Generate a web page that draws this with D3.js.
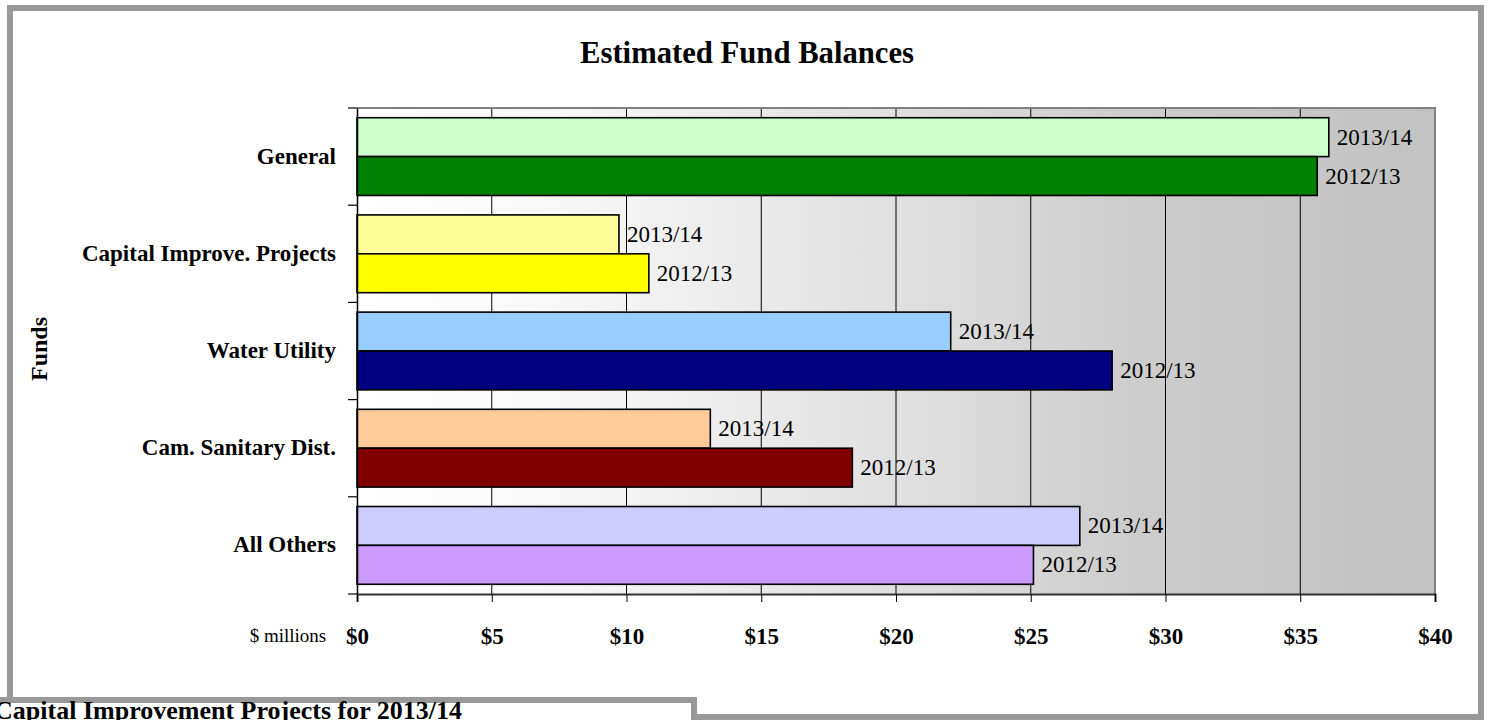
<!DOCTYPE html>
<head>
  <meta charset="utf-8">
  <style>
    body { margin: 0; background: #fff; }
    svg { display: block; font-family: 'Liberation Serif', 'Times New Roman', serif; }
  </style>
  <script src="https://cdn.jsdelivr.net/npm/d3@7"></script>
</head>
<body>
<div id=chart></div>
<script>
// fund balances, $ millions
const funds = ['General', 'Capital Improve. Projects', 'Water Utility', 'Cam. Sanitary Dist.', 'All Others']
const years = ['2013/14', '2012/13']
const balance_1314 = [36.06, 9.72, 22.03, 13.11, 26.82]
const balance_1213 = [35.63, 10.83, 28.02, 18.38, 25.10]
const color_1314 = ['#ccffcc', '#ffff99', '#99ccff', '#ffcc99', '#ccccff']
const color_1213 = ['#008000', '#ffff00', '#000080', '#800000', '#cc99ff']
const x_ticks = [0, 5, 10, 15, 20, 25, 30, 35, 40]

const width = 1499, height = 720
const plot = { left: 357, right: 1435, top: 108, bottom: 594 }

const svg = d3.select('#chart').append('svg')
  .attr('width', width).attr('height', height)
  .attr('viewBox', [0, 0, width, height])

// outer frame
svg.append('rect')
  .attr('x', 10).attr('y', 8).attr('width', 1471).attr('height', 709)
  .attr('fill', '#fff').attr('stroke', '#999').attr('stroke-width', 6)

// plot background gradient
const grad = svg.append('defs').append('linearGradient').attr('id', 'bg')
  .attr('x1', '0%').attr('x2', '100%').attr('y1', '0%').attr('y2', '0%')
grad.selectAll('stop')
  .data([[0, '#ffffff'], [0.2, '#f7f7f7'], [0.5, '#e0e0e0'], [0.72, '#cdcdcd'], [1, '#c2c2c2']])
  .join('stop').attr('offset', d => d[0]).attr('stop-color', d => d[1])

const x = d3.scaleLinear().domain([0, 40]).range([plot.left, plot.right])
const y = d3.scaleBand().domain(funds).range([plot.top, plot.bottom]).padding(0)
const y_inner = d3.scaleBand().domain(years).range([0, y.bandwidth()]).paddingInner(0).paddingOuter(0.25)

svg.append('rect')
  .attr('x', plot.left).attr('y', plot.top)
  .attr('width', plot.right - plot.left).attr('height', plot.bottom - plot.top)
  .attr('fill', 'url(#bg)')

// gridlines
svg.append('g').selectAll('line').data(x_ticks.slice(1, -1)).join('line')
  .attr('x1', d => x(d)).attr('x2', d => x(d))
  .attr('y1', plot.top).attr('y2', plot.bottom)
  .attr('stroke', '#000').attr('stroke-width', 1)

// plot border (top/right)
svg.append('path')
  .attr('d', `M${plot.left},${plot.top}H${plot.right}V${plot.bottom}`)
  .attr('fill', 'none').attr('stroke', '#808080').attr('stroke-width', 2)

// bars
const rows = funds.flatMap((f, i) => [
  { fund: f, year: years[0], value: balance_1314[i], color: color_1314[i] },
  { fund: f, year: years[1], value: balance_1213[i], color: color_1213[i] },
])

svg.append('g').selectAll('rect').data(rows).join('rect')
  .attr('x', x(0))
  .attr('y', d => y(d.fund) + y_inner(d.year))
  .attr('width', d => x(d.value) - x(0))
  .attr('height', y_inner.bandwidth())
  .attr('fill', d => d.color)
  .attr('stroke', '#000').attr('stroke-width', 1.6)

svg.append('g').selectAll('text').data(rows).join('text')
  .attr('x', d => x(d.value) + 8)
  .attr('y', d => y(d.fund) + y_inner(d.year) + y_inner.bandwidth() / 2 + 7.5)
  .attr('font-size', 23)
  .attr('fill', '#000')
  .text(d => d.year)

// y axis
svg.append('g')
  .attr('transform', `translate(${plot.left},0)`)
  .call(d3.axisLeft(y).tickValues([]).tickSizeOuter(0))
  .call(g => g.select('.domain').attr('stroke', '#000').attr('stroke-width', 1.5))
svg.append('g').selectAll('line').data(funds.concat(['end'])).join('line')
  .attr('x1', plot.left - 9).attr('x2', plot.left)
  .attr('y1', (d, i) => i < funds.length ? y(d) : plot.bottom)
  .attr('y2', (d, i) => i < funds.length ? y(d) : plot.bottom)
  .attr('stroke', '#000').attr('stroke-width', 1.2)

svg.append('g').selectAll('text').data(funds).join('text')
  .attr('x', 336)
  .attr('y', d => y(d) + y.bandwidth() / 2 + 7)
  .attr('text-anchor', 'end')
  .attr('font-size', 23).attr('font-weight', 'bold')
  .text(d => d)

// x axis
svg.append('g')
  .attr('transform', `translate(0,${plot.bottom})`)
  .call(d3.axisBottom(x).tickValues(x_ticks).tickSize(8).tickFormat(d => `$${d}`))
  .call(g => g.select('.domain').attr('stroke', '#333').attr('stroke-width', 2))
  .call(g => g.selectAll('.tick line').attr('stroke', '#000'))
  .call(g => g.selectAll('.tick text')
    .attr('y', 50).attr('dy', null)
    .attr('font-family', 'Liberation Serif, serif')
    .attr('font-size', 23).attr('font-weight', 'bold').attr('fill', '#000'))

svg.append('text')
  .attr('x', 288).attr('y', 642)
  .attr('text-anchor', 'middle').attr('font-size', 19)
  .text('$ millions')

svg.append('text')
  .attr('transform', 'translate(47,349) rotate(-90)')
  .attr('text-anchor', 'middle')
  .attr('font-size', 24).attr('font-weight', 'bold')
  .text('Funds')

// title
svg.append('text')
  .attr('x', 747).attr('y', 63)
  .attr('text-anchor', 'middle')
  .attr('font-size', 32).attr('font-weight', 'bold')
  .attr('textLength', 334).attr('lengthAdjust', 'spacingAndGlyphs')
  .text('Estimated Fund Balances')

// next panel overlapping the bottom-left corner
svg.append('rect')
  .attr('x', -10).attr('y', 700).attr('width', 704).attr('height', 40)
  .attr('fill', '#fff').attr('stroke', '#999').attr('stroke-width', 6)
svg.append('text')
  .attr('x', 462).attr('y', 719)
  .attr('text-anchor', 'end')
  .attr('font-size', 26).attr('font-weight', 'bold')
  .text('Capital Improvement Projects for 2013/14')
</script>
</body>
